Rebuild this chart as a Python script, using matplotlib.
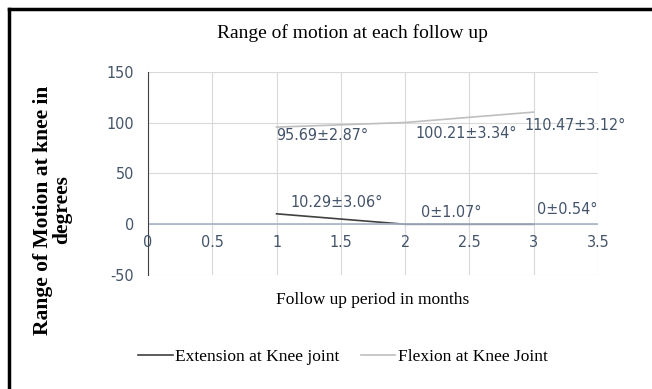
import matplotlib.pyplot as plt
from matplotlib.lines import Line2D

# data
months = [1, 2, 3]
extension = [10.29, 0, 0]
flexion = [95.69, 100.21, 110.47]
ext_labels = ["10.29±3.06°", "0±1.07°", "0±0.54°"]
flex_labels = ["95.69±2.87°", "100.21±3.34°", "110.47±3.12°"]
x_ticks = [0, 0.5, 1, 1.5, 2, 2.5, 3, 3.5]
x_tick_labels = ["0", "0.5", "1", "1.5", "2", "2.5", "3", "3.5"]
y_ticks = [-50, 0, 50, 100, 150]

plt.rcParams["axes.unicode_minus"] = False
lab_col = "#44546A"
serif = ["Liberation Serif", "DejaVu Serif"]
narrow = "DejaVu Sans"
nkw = dict(color=lab_col, fontsize=11.5, family=narrow, fontstretch="condensed")

fig = plt.figure(figsize=(6.52, 3.89), dpi=100)
ax = fig.add_axes([0.227, 0.293, 0.690, 0.522])

ax.plot(months, extension, color="#404040", lw=1.2)
ax.plot(months, flexion, color="#BFBFBF", lw=1.2)

# data labels
ax.text(1.0, 87.5, flex_labels[0], va="center", **nkw)
ax.text(2.08, 89, flex_labels[1], va="center", **nkw)
ax.text(2.93, 97, flex_labels[2], va="center", **nkw)
ax.text(1.11, 21.5, ext_labels[0], va="center", **nkw)
ax.text(2.12, 11.5, ext_labels[1], va="center", **nkw)
ax.text(3.03, 14.5, ext_labels[2], va="center", **nkw)

ax.set_xlim(0, 3.5)
ax.set_ylim(-50, 150)
ax.set_yticks(y_ticks)
ax.set_xticks(x_ticks)
ax.set_xticklabels([])
ax.grid(True, color="#D9D9D9", lw=0.8)
ax.set_axisbelow(True)
for s in ["top", "right", "bottom"]:
    ax.spines[s].set_visible(False)
ax.spines["left"].set_color("#404040")
ax.axhline(0, color="#A6B4C8", lw=1.2)
ax.tick_params(axis="x", length=0, pad=0)
ax.tick_params(axis="y", length=0, colors=lab_col, labelsize=11.5, pad=10)
for t in ax.get_yticklabels():
    t.set_family(narrow)
    t.set_fontstretch("condensed")
    t.set_color(lab_col)

# x tick labels sit just under the zero line
for xv, lab in zip(x_ticks, x_tick_labels):
    ax.text(xv, -11, lab, ha="center", va="top", **nkw)

ax.set_xlabel("Follow up period in months", family=serif, fontsize=12.5, labelpad=12)
fig.text(0.08, 0.46, "Range of Motion at knee in\ndegrees", family=serif, fontsize=15.5,
         fontweight="bold", rotation=90, ha="center", va="center", linespacing=0.95)

fig.text(0.54, 0.915, "Range of motion at each follow up", family=serif, fontsize=14,
         ha="center", va="center")

handles = [Line2D([], [], color="#404040", lw=1.2), Line2D([], [], color="#BFBFBF", lw=1.2)]
fig.legend(handles, ["Extension at Knee joint", "Flexion at Knee Joint"], loc="center",
           bbox_to_anchor=(0.526, 0.082), ncol=2, frameon=False, handlelength=2.0,
           handletextpad=0.15, columnspacing=1.2, prop={"family": serif, "size": 12.5})

# frame on top and left only
fig.add_artist(Line2D([0.0138, 0.0138], [0, 0.978], color="black", lw=2.5, transform=fig.transFigure))
fig.add_artist(Line2D([0.0138, 1], [0.978, 0.978], color="black", lw=2.5, transform=fig.transFigure))

fig.savefig("out.png", dpi=100)
